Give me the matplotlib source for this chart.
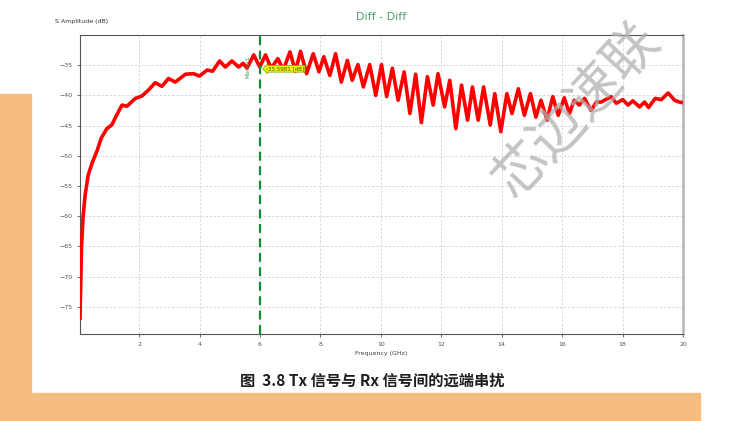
import matplotlib as mpl
import matplotlib.pyplot as plt
from matplotlib.patches import Rectangle

mpl.rcParams['font.family'] = ['DejaVu Sans']

freq = [0.04, 0.06, 0.09, 0.14, 0.21, 0.31, 0.44, 0.61, 0.74, 0.93,
        1.09, 1.24, 1.43, 1.59, 1.87, 2.09, 2.31, 2.53, 2.75, 2.97,
        3.19, 3.53, 3.80, 3.99, 4.25, 4.43, 4.66, 4.85, 5.07, 5.29,
        5.44, 5.57, 5.79, 5.99, 6.18, 6.37, 6.59, 6.77, 6.99, 7.17,
        7.34, 7.54, 7.76, 7.95, 8.11, 8.31, 8.50, 8.69, 8.89, 9.05,
        9.24, 9.42, 9.63, 9.83, 10.02, 10.19, 10.38, 10.57, 10.77, 10.96,
        11.15, 11.34, 11.54, 11.73, 11.89, 12.11, 12.28, 12.48, 12.67, 12.87,
        13.03, 13.22, 13.40, 13.62, 13.77, 13.97, 14.17, 14.34, 14.55, 14.75,
        14.95, 15.13, 15.30, 15.50, 15.69, 15.87, 16.07, 16.24, 16.40, 16.57,
        16.74, 16.96, 17.13, 17.29, 17.62, 17.79, 18.01, 18.18, 18.34, 18.56,
        18.73, 18.86, 19.08, 19.28, 19.51, 19.72, 19.88, 20.0]
s_db = [-76.9, -72.3, -65.0, -60.2, -56.5, -53.2, -51.2, -49.1, -47.1, -45.5,
        -44.9, -43.4, -41.6, -41.8, -40.5, -40.1, -39.1, -37.9, -38.5, -37.2,
        -37.8, -36.5, -36.4, -36.8, -35.8, -36.0, -34.3, -35.3, -34.3, -35.3,
        -34.7, -35.5, -33.3, -35.3, -33.3, -35.5, -33.9, -35.8, -32.8, -36.0,
        -32.7, -36.4, -33.1, -36.1, -33.6, -36.7, -33.1, -37.8, -34.2, -37.5,
        -34.9, -38.6, -34.9, -40.0, -34.9, -40.2, -35.5, -40.8, -36.1, -43.0,
        -36.5, -44.5, -36.9, -41.6, -36.4, -41.9, -37.5, -45.5, -38.3, -44.1,
        -38.6, -44.1, -38.6, -44.9, -39.7, -46.0, -39.7, -43.0, -38.9, -43.3,
        -39.7, -43.6, -40.8, -44.1, -40.2, -43.3, -40.4, -43.0, -40.8, -41.6,
        -40.5, -42.5, -41.1, -41.1, -40.2, -41.3, -40.7, -41.6, -40.9, -41.9,
        -41.1, -42.0, -40.5, -40.7, -39.6, -40.8, -41.1, -41.2]

x_ticks = [2, 4, 6, 8, 10, 12, 14, 16, 18, 20]
y_ticks = [-35, -40, -45, -50, -55, -60, -65, -70, -75]
marker_f = 6
marker_text = "-35.5981 [dB]"

fig = plt.figure(figsize=(7.51, 4.21), dpi=100)
peach = '#f5be7e'
fig.patches.append(Rectangle((0, 0), 31 / 751, 327 / 421, transform=fig.transFigure,
                             color=peach, zorder=0))
fig.patches.append(Rectangle((0, 0), 700 / 751, 28 / 421, transform=fig.transFigure,
                             color=peach, zorder=0))

ax = fig.add_axes([80 / 751, 87 / 421, 603 / 751, 299 / 421])
ax.plot(freq, s_db, color='#ff0000', lw=2.6, solid_joinstyle='round', zorder=3)
ax.axvline(marker_f, color='#138a36', lw=1.6, ls=(0, (4, 2.5)), zorder=4)

ax.set_xlim(0.04, 20)
ax.set_ylim(-79.5, -30)
ax.set_xticks(x_ticks)
ax.set_yticks(y_ticks)
ax.tick_params(labelsize=4.5, colors='#555555', length=2, width=0.6)
ax.grid(True, color='#d4d4d4', lw=0.6, ls=(0, (3, 2)))
for side in ['left', 'bottom', 'top']:
    ax.spines[side].set_color('#555555')
    ax.spines[side].set_linewidth(0.8)
ax.spines['right'].set_color('#b4b4b4')
ax.spines['right'].set_linewidth(1.8)

ax.set_xlabel("Frequency (GHz)", fontsize=4.5, color='#444444', labelpad=3)

# marker flag
ax.text(marker_f - 0.4, -35.3, "Marker1", rotation=90, fontsize=4, color='#3a9a5a',
        ha='center', va='center', zorder=5)
ax.text(marker_f + 0.2, -35.6, marker_text, fontsize=4, color='#555500', ha='left',
        va='center', zorder=6,
        bbox=dict(boxstyle='larrow,pad=0.15', fc='#e6f200', ec='#9aa000', lw=0.5))

fig.text(55 / 751, 1 - 21 / 421, "S Amplitude (dB)", fontsize=4.5, color='#333333',
         ha='left', va='center')
fig.text(381 / 751, 1 - 17 / 421, "Diff - Diff", fontsize=8, color='#4e9e6e',
         ha='center', va='center')

fig.text(372 / 751, 1 - 381 / 421, "图  3.8 Tx 信号与 Rx 信号间的远端串扰", fontsize=11,
         family=['Noto Sans CJK SC', 'DejaVu Sans'], color='#1e1e1e', fontweight='bold',
         ha='center', va='center')

# watermark
fig.text(577 / 751, 1 - 110 / 421, "芯边速联", fontsize=39, rotation=47,
         family=['Noto Sans CJK SC', 'DejaVu Sans'], color='#b0b0b0', alpha=0.75,
         fontweight='light', ha='center', va='center', zorder=10)

fig.savefig("out.png", dpi=100)
